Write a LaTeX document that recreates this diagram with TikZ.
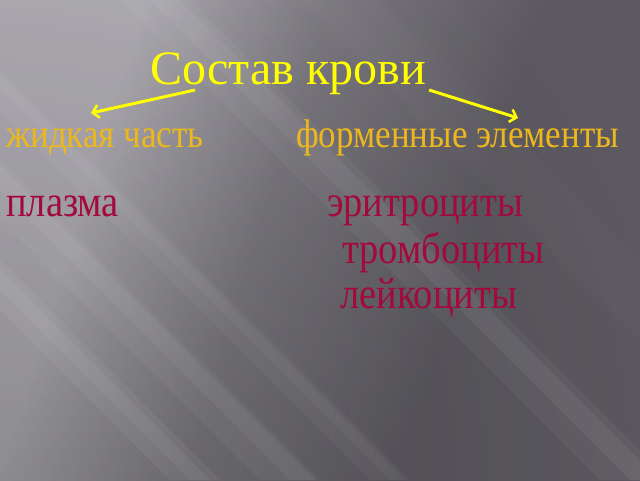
\documentclass[tikz,border=0pt]{standalone}
\usepackage{fontspec}
\setmainfont{Liberation Serif}
\newfontfamily\narrowserif[FakeStretch=0.875]{Liberation Serif}
\usetikzlibrary{arrows.meta,calc,fadings}
\definecolor{bgleft}{HTML}{B6B4BA}
\definecolor{bgmid}{HTML}{7E7C82}
\definecolor{bgright}{HTML}{5C5A60}
\definecolor{titleyellow}{HTML}{FFFF00}
\definecolor{partgold}{HTML}{EDB71E}
\definecolor{cellred}{HTML}{A30A3C}
\pgfdeclarehorizontalshading{slidebg}{100bp}{color(0bp)=(bgleft); color(30bp)=(bgleft); color(45bp)=(bgmid); color(62bp)=(bgright); color(100bp)=(bgright)}
\tikzfading[name=cornerfade,inner color=transparent!0,outer color=transparent!100]

\begin{document}
\begin{tikzpicture}[x=1pt,y=1pt,
  heading/.style={inner sep=0pt,anchor=base west,text=titleyellow,font=\fontsize{48}{50}\selectfont},
  part/.style={inner sep=0pt,anchor=base west,text=partgold,font=\narrowserif\fontsize{40}{42}\selectfont},
  cell/.style={inner sep=0pt,anchor=base west,text=cellred,font=\narrowserif\fontsize{44}{46}\selectfont},
  branch/.style={draw=titleyellow,line width=3pt,-{Straight Barb[length=6pt,width=13pt,line width=2.5pt]}}]
\pgfmathsetmacro{\slidew}{640}
\pgfmathsetmacro{\slideh}{480}
% background
\useasboundingbox (0,0) rectangle (\slidew,\slideh);
\begin{scope}
\clip (0,0) rectangle (\slidew,\slideh);
\shade[shading=slidebg,shading angle=-17] (0,0) rectangle (\slidew,\slideh);
\fill[black,opacity=0.22,path fading=cornerfade] (-700,-700) rectangle (700,700);
\foreach \s/\w/\o in {-310/50/0.05,-290/20/0.05,-220/60/0.04,-190/25/0.05,-110/40/0.04,-90/15/0.04,120/70/0.04,150/30/0.05,300/80/0.025}
  \fill[white,opacity=\o] (\s,\slideh) -- ++(\w,0) -- ++(\slideh,-\slideh) -- ++(-\w,0) -- cycle;
\end{scope}
% texts
\node[heading] (title) at (150,395) {Состав крови};
\node[part] (liquid) at (6,332) {жидкая часть};
\node[part] (formed) at (296,332) {форменные элементы};
\node[cell] (plasma) at (6,263) {плазма};
\node[cell] (ery) at (327,263) {эритроциты};
\node[cell] (thromb) at (342,217) {тромбоциты};
\node[cell] (leuko) at (340,172) {лейкоциты};
% arrows
\draw[branch] ($(title.base west)+(45,-5)$) -- ($(liquid.base west)+(85,35)$);
\draw[branch] ($(title.base east)+(3,-5)$) -- ($(formed.base west)+(222,30)$);
\end{tikzpicture}
\end{document}
